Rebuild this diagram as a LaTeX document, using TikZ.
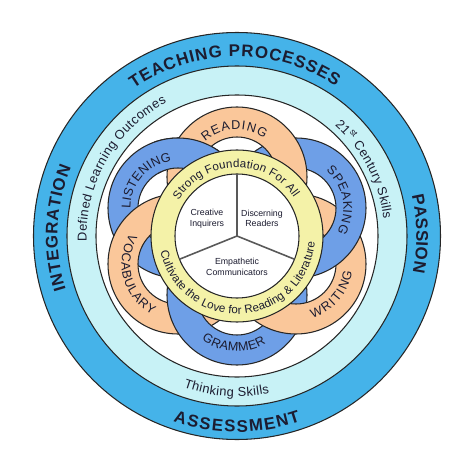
\documentclass[tikz,border=0pt]{standalone}
\usepackage{fontspec}
\setmainfont{Liberation Sans}
\usetikzlibrary{decorations.text}

\definecolor{outerblue}{HTML}{45B3E9}
\definecolor{paleblue}{HTML}{C8F2F6}
\definecolor{peach}{HTML}{FAC79A}
\definecolor{loopblue}{HTML}{6E9FE7}
\definecolor{lemon}{HTML}{F4F2A8}
\definecolor{ink}{HTML}{1C1C30}

\newcommand{\outerfont}{\fontsize{9.6}{11}\selectfont\bfseries}
\newcommand{\bandfont}{\fontsize{7.3}{8}\selectfont}
\newcommand{\loopfont}{\fontsize{7.2}{8}\selectfont}
\newcommand{\corefont}{\fontsize{6.6}{7}\selectfont}
\newcommand{\loopring}[2]{\draw[ringline,fill=#2,even odd rule] (#1) circle (70) circle (40);}

\tikzset{
  ringline/.style={draw=black!85, line width=0.6pt},
  arctext/.style={decorate, decoration={text along path, text align={fit to path}, text color=ink, text={#1}}},
  corenode/.style={font=\fontsize{5}{6}\selectfont, align=center, text=ink, inner sep=0pt},
}

\begin{document}
\begin{tikzpicture}[x=0.02cm,y=0.02cm]
  \useasboundingbox (-237,-238) rectangle (237,236);
  % outer bands
  \draw[ringline,fill=outerblue] (0,0) circle (203.5);
  \draw[ringline,fill=paleblue] (0,0) circle (170);
  \draw[ringline,fill=white] (0,0) circle (141);
  \path[arctext={|\outerfont|TEACHING PROCESSES}] (125:179.5) arc[start angle=125, end angle=56.5, radius=179.5];
  \path[arctext={|\outerfont|INTEGRATION}] (197.5:179.5) arc[start angle=197.5, end angle=157.5, radius=179.5];
  \path[arctext={|\outerfont|PASSION}] (13.2:179.5) arc[start angle=13.2, end angle=-11.7, radius=179.5];
  \path[arctext={|\outerfont|ASSESSMENT}] (251:196) arc[start angle=251, end angle=289, radius=196];
  \path[arctext={|\bandfont|Defined Learning Outcomes}] (182:150.5) arc[start angle=182, end angle=117.8, radius=150.5];
  \path[arctext={|\bandfont|21{\textsuperscript{st}} Century Skills}] (48.5:147.5) arc[start angle=48.5, end angle=6.5, radius=147.5];
  \path[arctext={|\bandfont|Thinking Skills}] (250.6:160.5) arc[start angle=250.6, end angle=281.7, radius=160.5];

  % loops
  \coordinate (read) at (0,59);
  \coordinate (speak) at (59,28);
  \coordinate (write) at (59,-28);
  \coordinate (gram) at (0,-59);
  \coordinate (vocab) at (-59,-28);
  \coordinate (listen) at (-59,28);
  \loopring{listen}{loopblue}
  \loopring{vocab}{peach}
  \loopring{gram}{loopblue}
  \loopring{write}{peach}
  \loopring{speak}{loopblue}
  \loopring{read}{peach}
  \begin{scope}
    \clip (-50,82) circle (35);
    \loopring{listen}{loopblue}
  \end{scope}
  \path[shift={(read)}, arctext={|\loopfont|READING}] (132:47.5) arc[start angle=132, end angle=55, radius=47.5];
  \path[shift={(listen)}, arctext={|\loopfont|LISTENING}] (181:47.5) arc[start angle=181, end angle=98, radius=47.5];
  \path[shift={(speak)}, arctext={|\loopfont|SPEAKING}] (51:47.5) arc[start angle=51, end angle=-30.5, radius=47.5];
  \path[shift={(write)}, arctext={|\loopfont|WRITING}] (-73:56.5) arc[start angle=-73, end angle=-7.5, radius=56.5];
  \path[shift={(gram)}, arctext={|\loopfont|GRAMMER}] (231.5:56.5) arc[start angle=231.5, end angle=301, radius=56.5];
  \path[shift={(vocab)}, arctext={|\loopfont|VOCABULARY}] (148:56.5) arc[start angle=148, end angle=243, radius=56.5];

  % core
  \draw[ringline,fill=lemon] (0,0) circle (86);
  \draw[ringline,fill=white] (0,0) circle (62);
  \coordinate (hub) at (0,0);
  \foreach \a in {90,202,-22}
    \draw[black!65, line width=0.9pt] (hub) -- (\a:62);
  \path[arctext={|\corefont|Strong Foundation For All}] (148.5:68.5) arc[start angle=148.5, end angle=34, radius=68.5];
  \path[arctext={|\corefont|Cultivate the Love for Reading {\&} Literature}] (191.5:78) arc[start angle=191.5, end angle=355.5, radius=78];
  \node[corenode] (creative) at (-30,17.5) {Creative\\Inquirers};
  \node[corenode] (discern) at (25,17.5) {Discerning\\Readers};
  \node[corenode] (empath) at (0,-31) {Empathetic\\Communicators};
\end{tikzpicture}
\end{document}
